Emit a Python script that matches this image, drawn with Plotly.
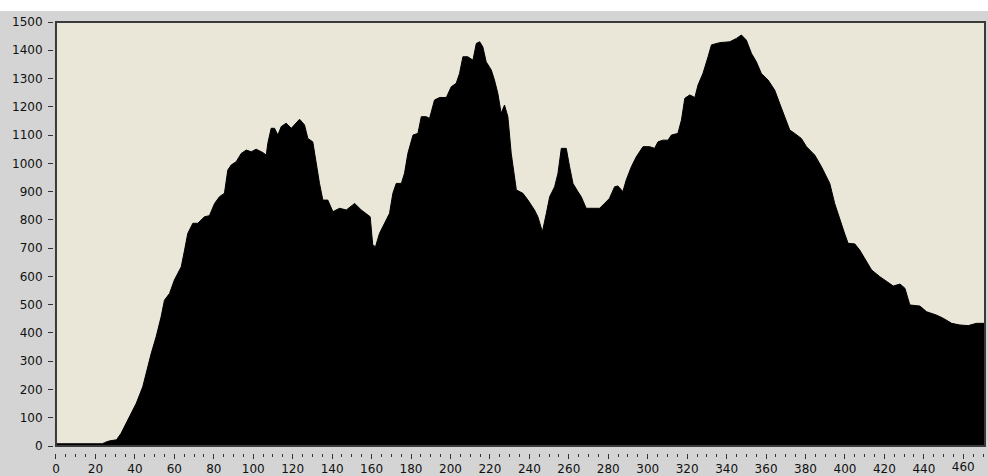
import plotly.graph_objects as go

# Histogram profile: bin position and pixel count
bins = [
    0, 23.5, 24.6, 27, 30.7, 33, 36.4, 40.7, 44, 45.7, 48.3, 50.8, 53.3, 55,
    57.6, 60, 63.5, 65.2, 66.8, 69.4, 71.9, 75.3, 77.8, 80.4, 82.9, 85.4, 87.1,
    88.8, 91.4, 93.9, 96.5, 99, 101.5, 104.9, 106.6, 107.4, 109.1, 110.8, 112.5,
    114.2, 116.7, 119.3, 120.9, 123.5, 126, 127.7, 130.2, 131.9, 133.6, 135.3,
    137.8, 140.4, 143.8, 147.2, 151.4, 154.8, 157.3, 159.3, 160.6, 162, 164,
    166.6, 169.1, 170.8, 172.5, 175.1, 176.7, 178.4, 181, 183.5, 185.2, 187.7,
    189.4, 191.9, 194.5, 197.9, 200.4, 202.9, 204.6, 206.3, 208.8, 211.4, 213.1,
    214.8, 216.4, 218.1, 220.7, 222.3, 224, 225.7, 227.4, 229.1, 230.8, 233.4,
    236.7, 239.3, 242.6, 244.3, 246.6, 248.6, 250.3, 252.8, 254.5, 256.2, 258.7,
    260.4, 262.1, 264.6, 266.3, 268.8, 275.6, 278.1, 280.6, 283.2, 284.9, 287.4,
    289.1, 291.7, 294.2, 297.6, 301, 303.5, 305.2, 307.7, 310.3, 312, 315.3,
    317.1, 318.8, 321.3, 323.9, 325.5, 328, 330.6, 332.3, 336.5, 341.6, 345,
    347.5, 350, 352.6, 355.1, 357.6, 361, 364.4, 366.9, 369.5, 372, 374.5,
    377.9, 380.5, 384.7, 388.1, 392.3, 394.8, 397.4, 399.9, 401.6, 405, 407.5,
    410.1, 413.5, 417.7, 421.1, 424.5, 427.9, 430.4, 432.9, 438, 441.4, 446.5,
    449.8, 454.1, 458.3, 462.5, 466.7, 471,
]
counts = [
    8, 8, 12, 18, 22, 45, 92, 151, 210, 257, 328, 387, 457, 516,
    540, 587, 634, 693, 752, 788, 788, 811, 815, 858, 882, 894, 976,
    994, 1006, 1035, 1047, 1041, 1050, 1038, 1029, 1071, 1124, 1124, 1100,
    1130, 1142, 1124, 1136, 1156, 1136, 1088, 1076, 1000, 929, 870,
    870, 829, 841, 835, 858, 835, 823, 811, 711, 705, 752,
    788, 823, 894, 929, 929, 965, 1035, 1100, 1106, 1165, 1165,
    1159, 1224, 1233, 1233, 1271, 1283, 1318, 1377, 1377, 1365, 1424,
    1430, 1412, 1359, 1330, 1295, 1248, 1177, 1206, 1165, 1035, 906,
    894, 870, 835, 811, 758, 823, 882, 917, 965, 1053, 1053,
    988, 929, 900, 882, 841, 841, 858, 876, 917, 920, 900,
    941, 988, 1023, 1059, 1059, 1053, 1076, 1082, 1082, 1100, 1106,
    1153, 1230, 1242, 1233, 1277, 1318, 1377, 1419, 1427, 1430, 1442,
    1454, 1436, 1389, 1359, 1318, 1295, 1259, 1212, 1165, 1118, 1106,
    1088, 1059, 1029, 988, 929, 858, 800, 750, 717, 715, 693,
    664, 623, 599, 581, 566, 573, 558, 499, 495, 475, 463,
    452, 434, 428, 426, 434, 434,
]

x_ticks = list(range(0, 480, 20))
y_ticks = list(range(0, 1600, 100))
# the last x label sits against the right edge and touches its neighbour,
# so it is carried by an overlaid label-only axis of its own
main_x_ticks = x_ticks[:-1]
edge_x_ticks = x_ticks[-1:]
X_RANGE = [0, 471]

PANEL = "#d4d4d4"
PLOT_BG = "#eae7d8"
INK = "#111111"
TICK = "#333333"
FONT = dict(family="DejaVu Sans", size=12, color=INK)

fig = go.Figure()
fig.add_trace(
    go.Scatter(
        x=bins,
        y=counts,
        mode="lines",
        line=dict(color="black", width=1),
        fill="tozeroy",
        fillcolor="black",
        hoverinfo="skip",
    )
)
# empty trace so the overlaid label axis gets drawn
fig.add_trace(go.Scatter(x=[], y=[], xaxis="x2", yaxis="y",
                         hoverinfo="skip", showlegend=False))

common_x = dict(
    domain=[0.0032, 1],
    anchor="free",
    position=0,
    range=X_RANGE,
    showgrid=False,
    zeroline=False,
    showline=False,
    automargin=False,
    ticklabeloverflow="allow",
)

fig.update_layout(
    template="none",
    width=988,
    height=476,
    margin=dict(l=53, r=3, t=22, b=23, pad=0, autoexpand=False),
    paper_bgcolor=PANEL,
    plot_bgcolor=PLOT_BG,
    showlegend=False,
    font=FONT,
    xaxis=dict(
        **common_x,
        tickvals=x_ticks,
        ticktext=[str(v) for v in main_x_ticks] + [""],
        ticks="outside",
        ticklen=5,
        tickwidth=1,
        tickcolor=TICK,
        ticklabelstandoff=0,
        minor=dict(dtick=5, tick0=0, ticks="outside", ticklen=3,
                   tickwidth=1, tickcolor=TICK, showgrid=False),
    ),
    xaxis2=dict(
        **common_x,
        overlaying="x",
        side="bottom",
        tickvals=edge_x_ticks,
        ticktext=[str(v) for v in edge_x_ticks],
        ticks="",
        ticklabelstandoff=5,
    ),
    yaxis=dict(
        domain=[0.0162, 1],
        anchor="free",
        position=0,
        range=[0, 1500],
        tickvals=y_ticks,
        ticktext=[str(v) for v in y_ticks],
        ticks="outside",
        ticklen=5,
        tickwidth=1,
        tickcolor=TICK,
        ticklabelstandoff=3,
        showgrid=False,
        zeroline=False,
        showline=False,
        automargin=False,
    ),
    shapes=[
        # white strip above the panel
        dict(type="rect", xref="paper", yref="paper",
             x0=-0.1, x1=1.1, y0=1.0255, y1=1.2,
             fillcolor="white", line=dict(width=0), layer="below"),
        # frame around the plotting area
        dict(type="rect", xref="x domain", yref="y domain",
             x0=0, x1=1, y0=0, y1=1,
             line=dict(color="#3a3a3a", width=2), layer="above"),
    ],
)

fig.write_html("out.html")
